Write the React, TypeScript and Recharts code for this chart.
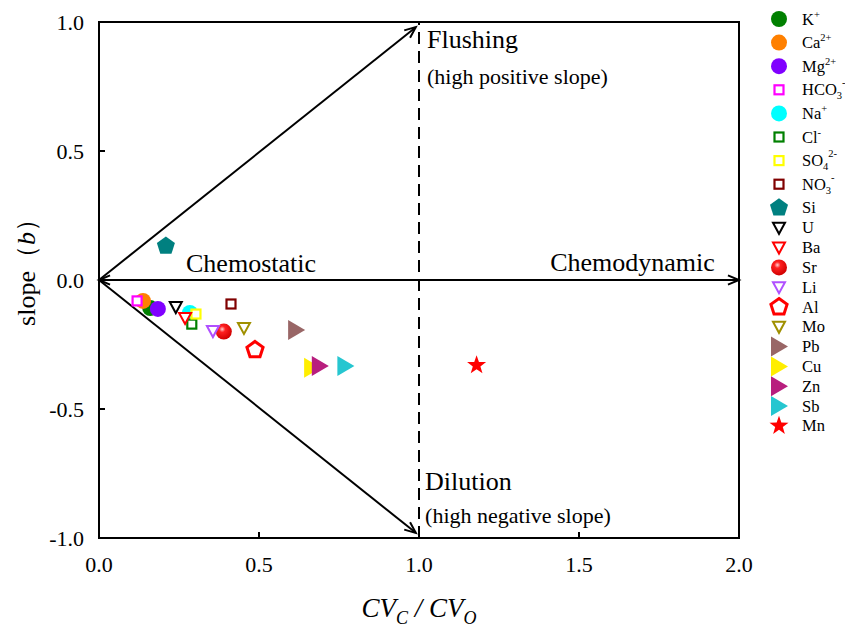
import React from 'react';
import { ScatterChart, Scatter, XAxis, YAxis, ReferenceLine, ReferenceDot, ReferenceArea } from 'recharts';

const FONT = '"Liberation Serif", "Times New Roman", serif';

// label parts: [base, subscript, superscript]
const labels: [string, string, string][] = [
  ['K', '', '+'], ['Ca', '', '2+'], ['Mg', '', '2+'], ['HCO', '3', '-'], ['Na', '', '+'],
  ['Cl', '', '-'], ['SO', '4', '2-'], ['NO', '3', '-'], ['Si', '', ''], ['U', '', ''],
  ['Ba', '', ''], ['Sr', '', ''], ['Li', '', ''], ['Al', '', ''], ['Mo', '', ''],
  ['Pb', '', ''], ['Cu', '', ''], ['Zn', '', ''], ['Sb', '', ''], ['Mn', '', ''],
];
const cvRatio = [0.16, 0.1375, 0.184, 0.119, 0.284, 0.29, 0.303, 0.4125, 0.209, 0.24, 0.269, 0.39, 0.356, 0.4875, 0.453, 0.616, 0.666, 0.69, 0.77, 1.18];
const slopeB = [-0.109, -0.081, -0.112, -0.081, -0.128, -0.171, -0.132, -0.093, 0.132, -0.105, -0.147, -0.2, -0.198, -0.271, -0.186, -0.194, -0.34, -0.333, -0.333, -0.33];
const colors = ['#008000', '#FF8000', '#8000FF', '#FF00FF', '#00FFFF', '#008000', '#FFFF00', '#800000', '#008080', '#000000', '#FF0000', '#FF0000', '#B050FF', '#FF0000', '#A09000', '#996666', '#FFEE00', '#B81E7E', '#26C6D0', '#FF0000'];
const symbols = ['circle', 'circle', 'circle', 'square', 'circle', 'square', 'square', 'square', 'pentagon', 'triDown', 'triDown', 'ball', 'triDown', 'pentagonOpen', 'triDown', 'triRight', 'triRight', 'triRight', 'triRight', 'star'];

const xTicks = [0, 0.5, 1, 1.5, 2];
const yTicks = [-1, -0.5, 0, 0.5, 1];

const polyPts = (cx: number, cy: number, n: number, r: number, rot = -Math.PI / 2, inner = 0) => {
  const pts: string[] = [];
  const count = inner ? n * 2 : n;
  for (let i = 0; i < count; i++) {
    const a = rot + (i * 2 * Math.PI) / count;
    const rr = inner && i % 2 === 1 ? inner : r;
    pts.push(`${cx + rr * Math.cos(a)},${cy + rr * Math.sin(a)}`);
  }
  return pts.join(' ');
};

const renderSymbol = (kind: string, cx: number, cy: number, color: string, id: string) => {
  switch (kind) {
    case 'circle':
      return <circle cx={cx} cy={cy} r={8} fill={color} />;
    case 'square':
      return <rect x={cx - 4.5} y={cy - 4.5} width={9} height={9} fill="#fff" stroke={color} strokeWidth={2.2} />;
    case 'pentagon':
      return <polygon points={polyPts(cx, cy, 5, 9.5)} fill={color} />;
    case 'pentagonOpen':
      return <polygon points={polyPts(cx, cy, 5, 8.5)} fill="#fff" stroke={color} strokeWidth={3} />;
    case 'triDown':
      return (
        <polygon
          points={`${cx - 6},${cy - 5} ${cx + 6},${cy - 5} ${cx},${cy + 6}`}
          fill="#fff"
          stroke={color}
          strokeWidth={2}
        />
      );
    case 'triRight':
      return <polygon points={`${cx - 8},${cy - 10} ${cx - 8},${cy + 10} ${cx + 9},${cy}`} fill={color} />;
    case 'ball':
      return (
        <g>
          <defs>
            <radialGradient id={id} cx="0.4" cy="0.35" r="0.65">
              <stop offset="0" stopColor="#FFD0D0" />
              <stop offset="0.3" stopColor="#FF2020" />
              <stop offset="1" stopColor="#D00000" />
            </radialGradient>
          </defs>
          <circle cx={cx} cy={cy} r={8} fill={`url(#${id})`} />
        </g>
      );
    case 'star':
      return <polygon points={polyPts(cx, cy, 5, 10, -Math.PI / 2, 4)} fill={color} />;
    default:
      return null;
  }
};

const arrowShape = (both: boolean) => (p: any) => {
  const { x1, y1, x2, y2 } = p;
  const a = Math.atan2(y2 - y1, x2 - x1);
  const len = 12;
  const sp = 0.4;
  const head = (x: number, y: number, ang: number) =>
    `M${x - len * Math.cos(ang - sp)},${y - len * Math.sin(ang - sp)} L${x},${y} L${x - len * Math.cos(ang + sp)},${y - len * Math.sin(ang + sp)}`;
  return (
    <g>
      <line x1={x1} y1={y1} x2={x2} y2={y2} stroke="#000" strokeWidth={2} />
      <path d={head(x2, y2, a)} fill="none" stroke="#000" strokeWidth={2} />
      {both && <path d={head(x1, y1, a + Math.PI)} fill="none" stroke="#000" strokeWidth={2} />}
    </g>
  );
};

const textDot = (text: string, size: number) => (p: any) => (
  <text x={p.cx} y={p.cy} fontFamily={FONT} fontSize={size} fill="#000">
    {text}
  </text>
);

const LegendBox = () => (
  <svg width={90} height={450} style={{ position: 'absolute', left: 755, top: 0 }}>
    {labels.map((lb, i) => {
      const y = i < 9 ? 19 + i * 23.6 : 208 + (i - 8) * 19.8;
      return (
        <g key={i}>
          {renderSymbol(symbols[i], 24, y, colors[i], 'lg' + i)}
          <text x={47} y={y + 5.5} fontFamily={FONT} fontSize={16.5} fill="#000">
            {lb[0]}
            {lb[1] && (
              <tspan fontSize={10.5} dy={4}>
                {lb[1]}
              </tspan>
            )}
            {lb[2] && (
              <tspan fontSize={10.5} dy={lb[1] ? -13 : -7}>
                {lb[2]}
              </tspan>
            )}
          </text>
        </g>
      );
    })}
  </svg>
);

const tickStyle = { fontFamily: FONT, fontSize: 22, fill: '#000', style: { fontFamily: FONT } };

const App = () => (
  <div style={{ position: 'absolute', left: 0, top: 0, width: 845, height: 630, background: '#fff', fontFamily: FONT }}>
    <ScatterChart width={845} height={630} margin={{ top: 22, right: 106, bottom: 0, left: 0 }} style={{ fontFamily: FONT }}>
      <XAxis
        type="number"
        dataKey="x"
        domain={[0, 2]}
        ticks={xTicks}
        tickFormatter={(v: number) => v.toFixed(1)}
        height={92}
        tickSize={-6}
        tickMargin={24}
        tick={tickStyle}
        axisLine={{ stroke: '#000', strokeWidth: 2 }}
        tickLine={{ stroke: '#000', strokeWidth: 2 }}
        label={{
          content: (props: any) => {
            const { x, y, width } = props.viewBox;
            return (
              <text x={x + width / 2} y={y + 79} textAnchor="middle" fontFamily={FONT} fontStyle="italic" fontSize={27} fill="#000">
                CV
                <tspan fontSize={18} dy={7}>C</tspan>
                <tspan dy={-7}> / CV</tspan>
                <tspan fontSize={18} dy={7}>O</tspan>
              </text>
            );
          },
        }}
      />
      <YAxis
        type="number"
        dataKey="y"
        domain={[-1, 1]}
        ticks={yTicks}
        tickFormatter={(v: number) => v.toFixed(1)}
        width={99}
        tickSize={-6}
        tickMargin={21}
        tick={tickStyle}
        axisLine={{ stroke: '#000', strokeWidth: 2 }}
        tickLine={{ stroke: '#000', strokeWidth: 2 }}
        label={{
          content: () => (
            <text x={35} y={266} transform="rotate(-90, 35, 266)" textAnchor="middle" fontFamily={FONT} fontSize={26} fill="#000">
              slope（<tspan fontStyle="italic">b</tspan>）
            </text>
          ),
        }}
      />
      <ReferenceArea x1={0} x2={2} y1={-1} y2={1} fill="none" stroke="#000" strokeWidth={2} ifOverflow="visible" />
      <ReferenceLine x={1} stroke="#000" strokeWidth={2} strokeDasharray="12 7" />
      <ReferenceLine segment={[{ x: 0, y: 0 }, { x: 2, y: 0 }]} shape={arrowShape(true)} ifOverflow="visible" />
      <ReferenceLine segment={[{ x: 0, y: 0 }, { x: 0.99, y: 0.98 }]} shape={arrowShape(false)} ifOverflow="visible" />
      <ReferenceLine segment={[{ x: 0, y: 0 }, { x: 0.99, y: -0.98 }]} shape={arrowShape(false)} ifOverflow="visible" />
      <ReferenceDot x={1.025} y={0.9} shape={textDot('Flushing', 26)} ifOverflow="visible" />
      <ReferenceDot x={1.025} y={0.76} shape={textDot('(high positive slope)', 22)} ifOverflow="visible" />
      <ReferenceDot x={0.272} y={0.03} shape={textDot('Chemostatic', 26)} ifOverflow="visible" />
      <ReferenceDot x={1.41} y={0.034} shape={textDot('Chemodynamic', 26)} ifOverflow="visible" />
      <ReferenceDot x={1.019} y={-0.814} shape={textDot('Dilution', 26)} ifOverflow="visible" />
      <ReferenceDot x={1.019} y={-0.94} shape={textDot('(high negative slope)', 22)} ifOverflow="visible" />
      {labels.map((lb, i) => (
        <Scatter
          key={i}
          name={lb.join('')}
          data={[{ x: cvRatio[i], y: slopeB[i] }]}
          isAnimationActive={false}
          shape={(p: any) => renderSymbol(symbols[i], p.cx, p.cy, colors[i], 'pt' + i)}
        />
      ))}
    </ScatterChart>
    <LegendBox />
  </div>
);

export default App;
